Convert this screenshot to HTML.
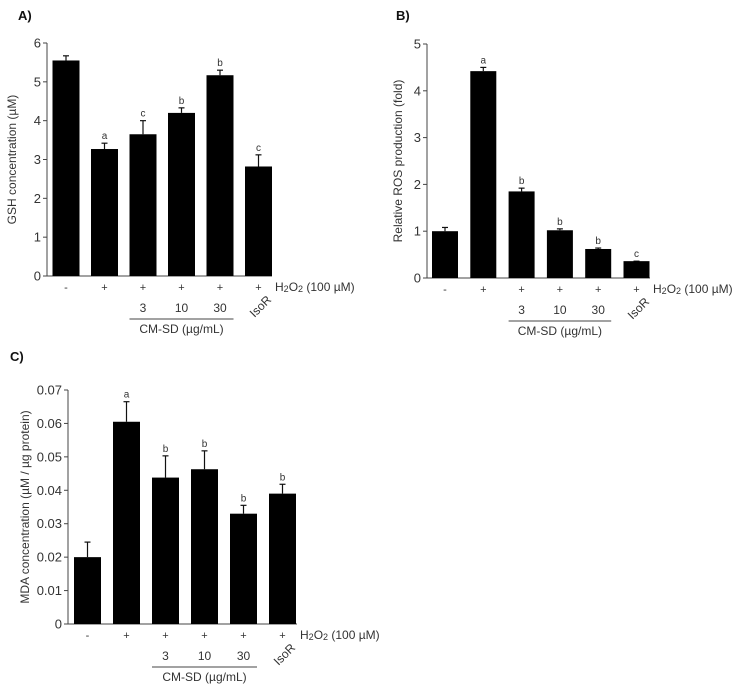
<!DOCTYPE html>
<html><head><meta charset="utf-8"><style>
body{margin:0;background:#fff;}
svg{display:block;font-family:"Liberation Sans",Arial,sans-serif;fill:#222;}
</style></head><body>
<svg id="fig" width="741" height="687" viewBox="0 0 741 687" xmlns="http://www.w3.org/2000/svg"></svg>
<script>
const groups = ["-", "+", "+", "+", "+", "+"];
const doses = ["3", "10", "30"];
const gshValues = [5.55, 3.27, 3.65, 4.2, 5.17, 2.82];
const gshErrors = [0.12, 0.15, 0.35, 0.13, 0.13, 0.3];
const gshLetters = ["", "a", "c", "b", "b", "c"];
const gshTicks = ["0","1","2","3","4","5","6"];
const rosValues = [1.0, 4.42, 1.85, 1.02, 0.62, 0.36];
const rosErrors = [0.08, 0.08, 0.07, 0.03, 0.02, 0.0];
const rosLetters = ["", "a", "b", "b", "b", "c"];
const rosTicks = ["0","1","2","3","4","5"];
const mdaValues = [0.020, 0.0605, 0.0438, 0.0463, 0.033, 0.039];
const mdaErrors = [0.0045, 0.006, 0.0065, 0.0055, 0.0025, 0.0028];
const mdaLetters = ["", "a", "b", "b", "b", "b"];
const mdaTicks = ["0","0.01","0.02","0.03","0.04","0.05","0.06","0.07"];

const NS="http://www.w3.org/2000/svg";
const svg=document.getElementById('fig');
function mk(tag,attrs,parent){const e=document.createElementNS(NS,tag);for(const k in attrs)e.setAttribute(k,attrs[k]);(parent||svg).appendChild(e);return e;}
function txt(s,attrs,parent){const e=mk('text',attrs,parent);e.textContent=s;return e;}

function chart(cfg,values,errors,letters,ticks){
  const g=mk('g',{});
  
  
  const ymax=parseFloat(ticks[ticks.length-1]);
  const y=v=>cfg.y0-(v/ymax)*(cfg.y0-cfg.yTop);
  const x=i=>cfg.x1c+i*cfg.step;
  const pl=txt(cfg.panel,{x:cfg.px,y:cfg.py,'font-size':13,'font-weight':'bold',fill:'#111'},g);
  
  
  const ax=mk('path',{d:`M${cfg.ax} ${cfg.yTop}V${cfg.y0}H${cfg.xEnd}`,stroke:'#444','stroke-width':1,fill:'none'},g);
  
  
  ticks.forEach((t,i)=>{
    const yy=y(parseFloat(t));
    mk('line',{x1:cfg.ax-4,x2:cfg.ax,y1:yy,y2:yy,stroke:'#444'},g);
    const tl=txt(t,{x:cfg.ax-6,y:yy+4.5,'text-anchor':'end','font-size':13,fill:'#333'},g);
    
    
  });
  const yt=txt(cfg.ytitle,{x:0,y:0,'text-anchor':'middle','font-size':12,fill:'#333',transform:`translate(${cfg.ytx},${(cfg.y0+cfg.yTop)/2}) rotate(-90)`},g);
  
  
  values.forEach((v,i)=>{
    const cx=x(i),top=y(v),et=y(v+errors[i]);
    mk('line',{x1:cx,x2:cx,y1:et,y2:top,stroke:'#111','stroke-width':1.2},g);
    mk('line',{x1:cx-3,x2:cx+3,y1:et,y2:et,stroke:'#111','stroke-width':1.2},g);
    const b=mk('rect',{x:cx-cfg.bw/2,y:top,width:cfg.bw,height:cfg.y0-top,fill:'#000'},g);
    
    
    if(letters[i]){
      const l=txt(letters[i],{x:cx,y:et-4,'text-anchor':'middle','font-size':10,fill:'#333'},g);
      
      
    }
    const s=txt(groups[i],{x:cx,y:cfg.y0+15,'text-anchor':'middle','font-size':11,fill:'#333'},g);
    
    
  });
  const h=txt('',{x:cfg.xEnd+3,y:cfg.y0+15,'font-size':12,fill:'#333'},g);
  h.innerHTML='H<tspan font-size="9" dy="1">2</tspan><tspan dy="-1">O</tspan><tspan font-size="9" dy="1">2</tspan><tspan dy="-1"> (100 µM)</tspan>';
  
  
  doses.forEach((d,j)=>{
    const t=txt(d,{x:x(j+2),y:cfg.y0+36,'text-anchor':'middle','font-size':12,fill:'#333'},g);
    
    
  });
  mk('line',{x1:x(2)-cfg.bw/2,x2:x(4)+cfg.bw/2,y1:cfg.y0+43,y2:cfg.y0+43,stroke:'#444'},g);
  const c=txt('CM-SD (µg/mL)',{x:x(3),y:cfg.y0+57,'text-anchor':'middle','font-size':12,fill:'#333'},g);
  
  
  const iso=txt('IsoR',{x:0,y:0,'font-size':12,fill:'#333',transform:`translate(${x(5)-4},${cfg.y0+42}) rotate(-45)`},g);
  
  
}
chart({name:'chart-gsh',panel:'A)',px:18,py:20,ax:47,y0:276,yTop:43,xEnd:272,x1c:66,step:38.5,bw:27,ytx:16,ytitle:'GSH concentration (µM)'},gshValues,gshErrors,gshLetters,gshTicks);
chart({name:'chart-ros',panel:'B)',px:396,py:20,ax:427,y0:278,yTop:44,xEnd:650,x1c:445,step:38.3,bw:26,ytx:402,ytitle:'Relative ROS production (fold)'},rosValues,rosErrors,rosLetters,rosTicks);
chart({name:'chart-mda',panel:'C)',px:10,py:361,ax:68,y0:624,yTop:390,xEnd:297,x1c:87.5,step:39,bw:27,ytx:29,ytitle:'MDA concentration (µM / µg protein)'},mdaValues,mdaErrors,mdaLetters,mdaTicks);
</script>
</body></html>
